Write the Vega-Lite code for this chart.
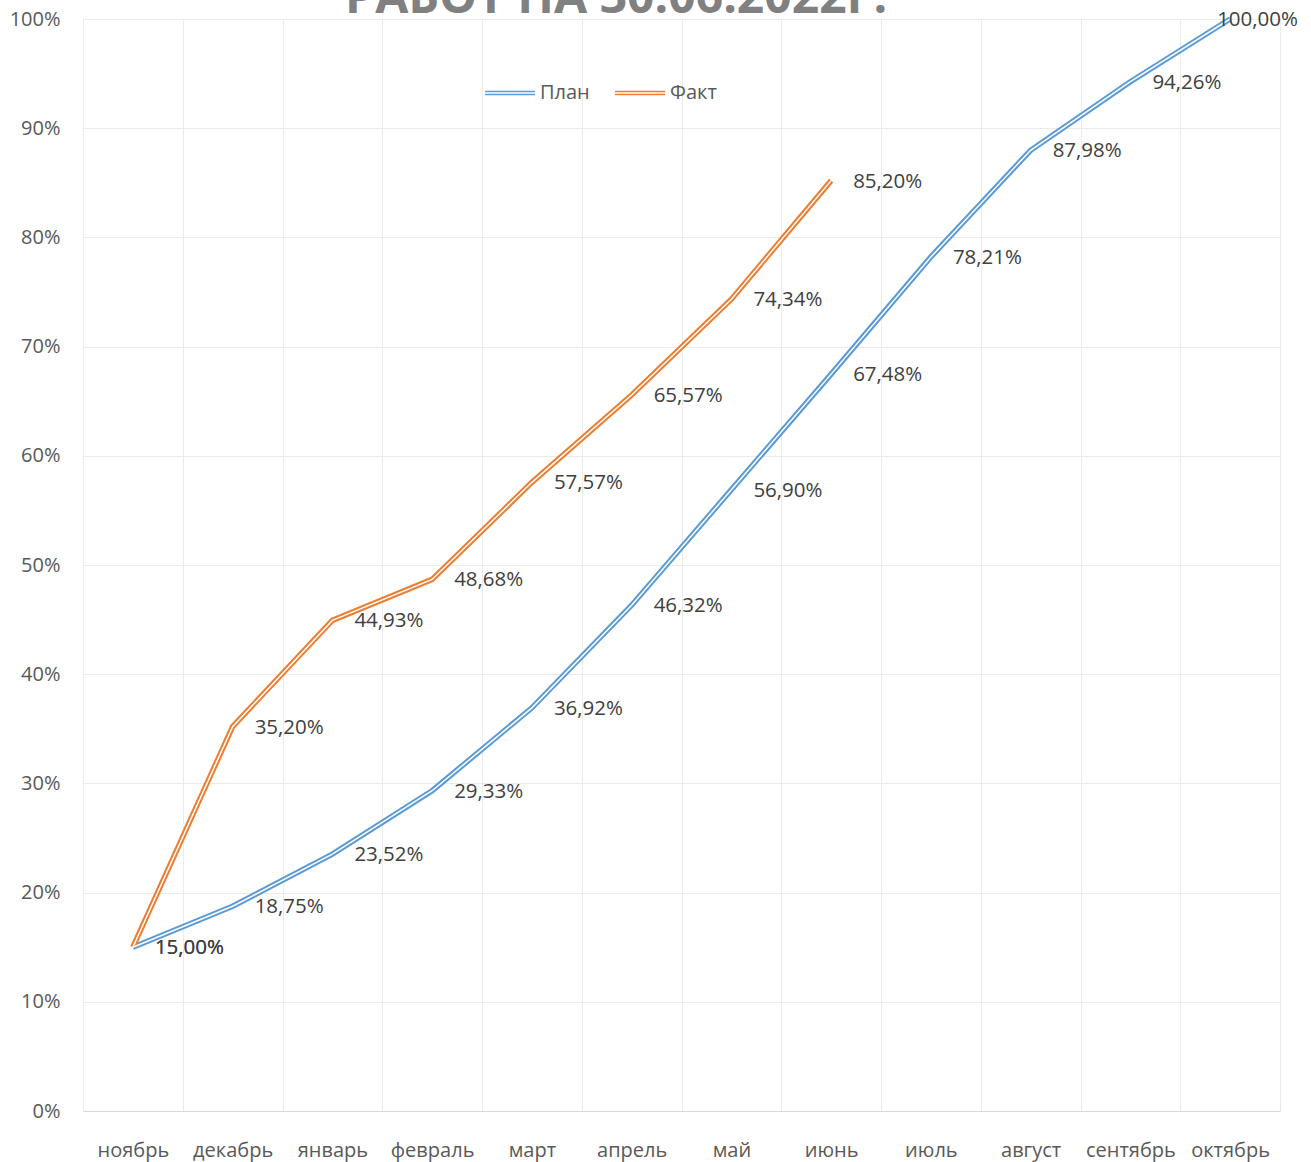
{
  "$schema": "https://vega.github.io/schema/vega-lite/v6.json",
  "width": 1197,
  "height": 1092,
  "autosize": {"type": "none"},
  "padding": {"left": 83, "top": 19, "right": 31, "bottom": 51},
  "background": "#ffffff",
  "title": {
    "text": "РАБОТ НА 30.06.2022Г.",
    "fontSize": 48,
    "font": "Open Sans",
    "fontWeight": "bold",
    "color": "#808080",
    "anchor": "start",
    "frame": "group",
    "baseline": "alphabetic",
    "offset": -53,
    "dx": 262
  },
  "config": {
    "locale": {"number": {"decimal": ",", "thousands": " ", "grouping": [3], "currency": ["", ""]}},
    "view": {"stroke": "#e6e6e6"},
    "font": "Open Sans"
  },
  "data": {
    "values": [
      {"month": "ноябрь", "series": "План", "value": 0.15},
      {"month": "декабрь", "series": "План", "value": 0.1875},
      {"month": "январь", "series": "План", "value": 0.2352},
      {"month": "февраль", "series": "План", "value": 0.2933},
      {"month": "март", "series": "План", "value": 0.3692},
      {"month": "апрель", "series": "План", "value": 0.4632},
      {"month": "май", "series": "План", "value": 0.569},
      {"month": "июнь", "series": "План", "value": 0.6748},
      {"month": "июль", "series": "План", "value": 0.7821},
      {"month": "август", "series": "План", "value": 0.8798},
      {"month": "сентябрь", "series": "План", "value": 0.9426},
      {"month": "октябрь", "series": "План", "value": 1.0},
      {"month": "ноябрь", "series": "Факт", "value": 0.15},
      {"month": "декабрь", "series": "Факт", "value": 0.352},
      {"month": "январь", "series": "Факт", "value": 0.4493},
      {"month": "февраль", "series": "Факт", "value": 0.4868},
      {"month": "март", "series": "Факт", "value": 0.5757},
      {"month": "апрель", "series": "Факт", "value": 0.6557},
      {"month": "май", "series": "Факт", "value": 0.7434},
      {"month": "июнь", "series": "Факт", "value": 0.852}
    ]
  },
  "encoding": {
    "x": {
      "field": "month",
      "type": "ordinal",
      "sort": ["ноябрь", "декабрь", "январь", "февраль", "март", "апрель", "май", "июнь", "июль", "август", "сентябрь", "октябрь"],
      "scale": {"type": "band", "paddingInner": 0, "paddingOuter": 0},
      "bandPosition": 0.5,
      "axis": {
        "title": null,
        "labelAngle": 0,
        "tickBand": "extent",
        "grid": true,
        "gridColor": "#ebebeb",
        "ticks": false,
        "domainColor": "#d9d9d9",
        "labelFontSize": 20,
        "labelColor": "#595959",
        "labelBaseline": "middle",
        "labelPadding": 39,
        "labelFont": "Open Sans"
      }
    },
    "y": {
      "field": "value",
      "type": "quantitative",
      "scale": {"domain": [0, 1], "nice": false},
      "axis": {
        "title": null,
        "format": ".0%",
        "values": [0, 0.1, 0.2, 0.3, 0.4, 0.5, 0.6, 0.7, 0.8, 0.9, 1],
        "grid": true,
        "gridColor": "#ebebeb",
        "ticks": false,
        "domain": false,
        "labelFontSize": 20,
        "labelColor": "#595959",
        "labelPadding": 23,
        "labelFont": "Open Sans"
      }
    }
  },
  "layer": [
    {
      "mark": {"type": "line", "strokeWidth": 5.5},
      "encoding": {
        "color": {
          "field": "series",
          "type": "nominal",
          "scale": {"domain": ["План", "Факт"], "range": ["#5B9BD5", "#ED7D31"]},
          "legend": {
            "title": null,
            "orient": "none",
            "legendX": 401,
            "legendY": 48,
            "direction": "horizontal",
            "symbolType": "M-1,-0.06H1M-1,0.06H1",
            "symbolSize": 2500,
            "symbolStrokeWidth": 1.5,
            "symbolFillColor": "transparent",
            "labelFontSize": 20,
            "labelColor": "#595959",
            "labelOffset": 4,
            "columnPadding": 22,
            "labelFont": "Open Sans"
          }
        }
      }
    },
    {
      "mark": {"type": "line", "strokeWidth": 1.5, "color": "#ffffff"},
      "encoding": {"detail": {"field": "series"}}
    },
    {
      "transform": [{"filter": "datum.value < 1"}],
      "mark": {"type": "text", "align": "left", "baseline": "middle", "dx": 22, "dy": 1, "fontSize": 20.5, "color": "#404040", "font": "Open Sans"},
      "encoding": {"text": {"field": "value", "type": "quantitative", "format": ".2%"}}
    },
    {
      "transform": [{"filter": "datum.value >= 1"}],
      "mark": {"type": "text", "align": "left", "baseline": "middle", "dx": -13, "dy": 1, "fontSize": 20.5, "color": "#404040", "font": "Open Sans"},
      "encoding": {"text": {"field": "value", "type": "quantitative", "format": ".2%"}}
    }
  ]
}
